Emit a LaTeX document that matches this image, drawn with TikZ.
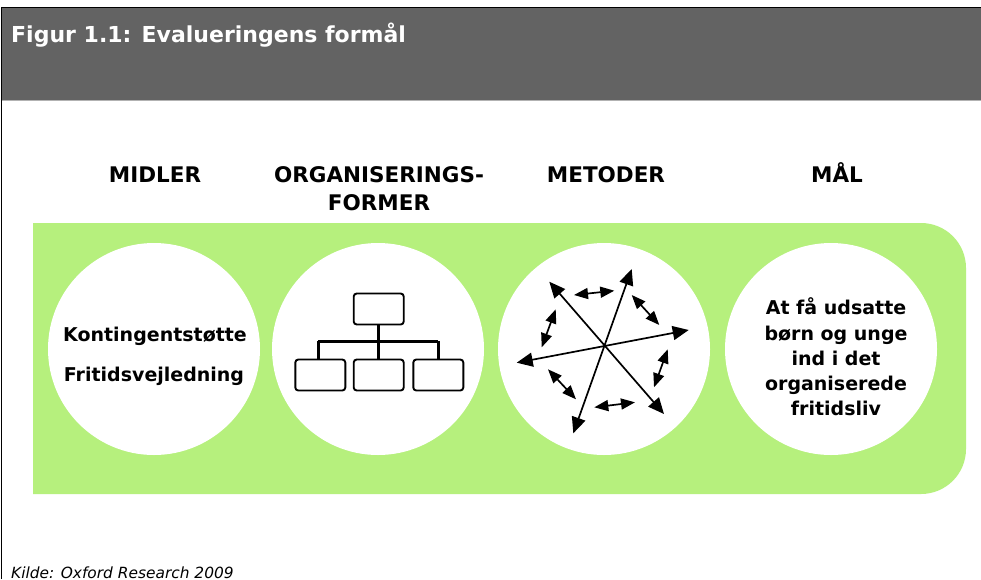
\documentclass[tikz,border=0pt]{standalone}
\usepackage{fontspec}
\setmainfont{DejaVu Sans}
\usetikzlibrary{arrows.meta}

\definecolor{bandgreen}{HTML}{B6F07D}
\definecolor{headgray}{HTML}{636363}

\tikzset{
	heading/.style={font=\fontsize{21.5}{28}\bfseries\selectfont, align=center, anchor=base},
	bodytext/.style={font=\fontsize{19}{25.2}\bfseries\selectfont, align=center},
	disc/.style={circle, fill=white, minimum size=212pt, inner sep=0pt},
	orgbox/.style={draw, rounded corners=3pt, line width=1.9pt, fill=white, minimum width=50pt, minimum height=31pt, inner sep=0pt},
	orgline/.style={line width=3pt},
	longarrow/.style={line width=1.7pt, {Triangle[length=16pt,width=14pt]}-{Triangle[length=16pt,width=14pt]}},
	shortarrow/.style={line width=1.7pt, {Triangle[length=14pt,width=11pt]}-{Triangle[length=14pt,width=11pt]}}
}

\begin{document}
\begin{tikzpicture}[x=1pt,y=-1pt]

\useasboundingbox (0,0) rectangle (981,579);
\clip (0,0) rectangle (981,579);

% frame and header
\fill[white] (0,0) rectangle (981,579);
\fill[headgray] (2,8) rectangle (981,100);
\draw[line width=1.4pt] (1.5,579) -- (1.5,7.5) -- (981,7.5);
\draw[line width=0.7pt, black!30] (2,100.3) -- (981,100.3);
\node[anchor=base west, inner sep=0pt, text=white, font=\fontsize{22}{26}\bfseries\selectfont] (title) at (11,42) {Figur 1.1: Evalueringens formål};

% column headings
\node[heading] (midler) at (155,182) {MIDLER};
\node[heading] (org) at (379,210) {ORGANISERINGS-\\FORMER};
\node[heading] (metoder) at (606,182) {METODER};
\node[heading] (maal) at (837,182) {MÅL};

% green band
\fill[bandgreen] (33,223) [rounded corners=45pt] -- (966,223) -- (966,494) [sharp corners] -- (33,494) -- cycle;

\node[disc] (disc1) at (154,349) {};
\node[disc] (disc2) at (378,349) {};
\node[disc] (disc3) at (604,349) {};
\node[disc] (disc4) at (831,349) {};

\node[bodytext, anchor=base] (kont) at (155,341) {Kontingentstøtte};
\node[bodytext, anchor=base] (frit) at (154,381) {Fritidsvejledning};
\node[bodytext, anchor=center] (goal) at (836,357) {At få udsatte\\børn og unge\\ind i det\\organiserede\\fritidsliv};

% organisation chart
\node[orgbox] (top) at (378.7,309) {};
\node[orgbox] (left) at (320.3,375) {};
\node[orgbox] (mid) at (378.7,375) {};
\node[orgbox] (right) at (438.3,375) {};
\coordinate (busl) at (318.3,341);
\coordinate (busr) at (438.3,341);

\draw[orgline] (top) -- (mid);
\draw[orgline] (busl) -- (busr);
\draw[orgline] (busl) -- (busl |- left.north);
\draw[orgline] (busr) -- (busr |- right.north);

% arrows
\foreach \xa/\ya/\xb/\yb in {516.7/362.7/688.7/330, 549.3/281.7/664/414, 573.3/433.3/631.7/269}
	\draw[longarrow] (\xa,\ya) -- (\xb,\yb);

\foreach \xa/\ya/\xb/\yb in {574/295/614.3/290.7, 631.7/295/659.3/325, 667.7/349.3/654/387.3, 635/402.3/594.3/407.3, 576/399.3/548/369.3, 541.7/347.3/555.7/309.3}
	\draw[shortarrow] (\xa,\ya) -- (\xb,\yb);

% source
\node[anchor=base west, inner sep=0pt, font=\fontsize{15.4}{20}\itshape\selectfont] (source) at (11,578) {Kilde: Oxford Research 2009};

\end{tikzpicture}
\end{document}
